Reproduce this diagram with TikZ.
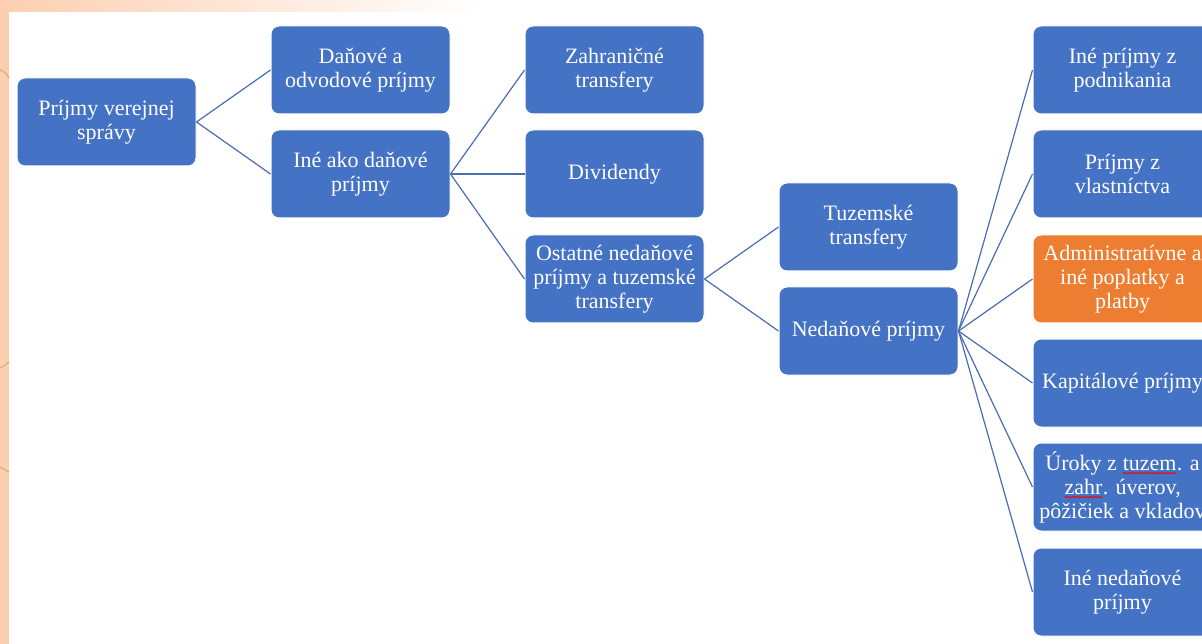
\documentclass[tikz,border=0pt]{standalone}
\usepackage{fontspec}
\setmainfont{Liberation Serif}
\usetikzlibrary{decorations.pathmorphing}
\definecolor{boxblue}{HTML}{4472C4}
\definecolor{lineblue}{HTML}{4A6DB3}
\definecolor{boxorange}{HTML}{ED7D31}
\definecolor{peach}{HTML}{FCCFB0}
\newcommand\spellerr[1]{\tikz[baseline=(w.base)]{\node[shape=rectangle, inner sep=0pt, outer sep=0pt,
    minimum width=0pt, minimum height=0pt, draw=none, fill=none, rounded corners=0pt, text=white] (w) {#1};
  \draw[red, line width=0.7pt, rounded corners=0pt, decorate, decoration={snake, amplitude=0.7pt, segment length=2.5pt}]
    ([yshift=-3pt]w.base west) -- ([yshift=-3pt]w.base east);}}
\tikzset{
  box/.style={rectangle, rounded corners=8pt, minimum width=179pt, minimum height=88pt,
    inner sep=2pt, fill=boxblue, draw=white, line width=1pt, text=white, align=center,
    font=\fontsize{22}{24}\selectfont},
  obox/.style={box, fill=boxorange},
  conn/.style={draw=lineblue, line width=1.2pt},
}
\begin{document}
\begin{tikzpicture}[x=1pt,y=-1pt]
\useasboundingbox (0,0) rectangle (1202,644);
\clip (0,0) rectangle (1202,644);
% background
\fill[peach] (0,0) rectangle (9,644);
\shade[left color=peach, right color=white] (0,0) rectangle (480,12);
\fill[white] (9,12) rectangle (1202,644);
\draw[brown!40!peach, line width=1.5pt] (0,70) .. controls (5,72) .. (9,78);
\draw[brown!40!peach, line width=1.5pt] (0,368) .. controls (4,366) .. (9,362);
\draw[brown!40!peach, line width=1.5pt] (0,467) .. controls (4,469) .. (9,472);
% nodes
\node[box] (root) at (106.5,122) {Príjmy verejnej\\správy};
\node[box] (dan) at (360.5,70) {Daňové a\\odvodové príjmy};
\node[box] (ine) at (360.5,174) {Iné ako daňové\\príjmy};
\node[box] (zahr) at (614.5,70) {Zahraničné\\transfery};
\node[box] (div) at (614.5,174) {Dividendy};
\node[box] (ost) at (614.5,279) {Ostatné nedaňové\\príjmy a tuzemské\\transfery};
\node[box] (tuz) at (868.5,227) {Tuzemské\\transfery};
\node[box] (ned) at (868.5,331) {Nedaňové príjmy};
\node[box] (r1) at (1122.5,70) {Iné príjmy z\\podnikania};
\node[box] (r2) at (1122.5,174) {Príjmy z\\vlastníctva};
\node[obox] (r3) at (1122.5,279) {Administratívne a\\iné poplatky a\\platby};
\node[box] (r4) at (1122.5,383) {Kapitálové príjmy};
\node[box] (r5) at (1122.5,487) {Úroky z \spellerr{tuzem}. a\\\spellerr{zahr}. úverov,\\pôžičiek a vkladov};
\node[box] (r6) at (1122.5,592) {Iné nedaňové\\príjmy};
% connectors
\draw[conn] (root.east) -- (dan.west);
\draw[conn] (root.east) -- (ine.west);
\draw[conn] (ine.east) -- (zahr.west);
\draw[conn] (ine.east) -- (div.west);
\draw[conn] (ine.east) -- (ost.west);
\draw[conn] (ost.east) -- (tuz.west);
\draw[conn] (ost.east) -- (ned.west);
\foreach \r in {r1,r2,r3,r4,r5,r6} \draw[conn] (ned.east) -- (\r.west);
\end{tikzpicture}
\end{document}
